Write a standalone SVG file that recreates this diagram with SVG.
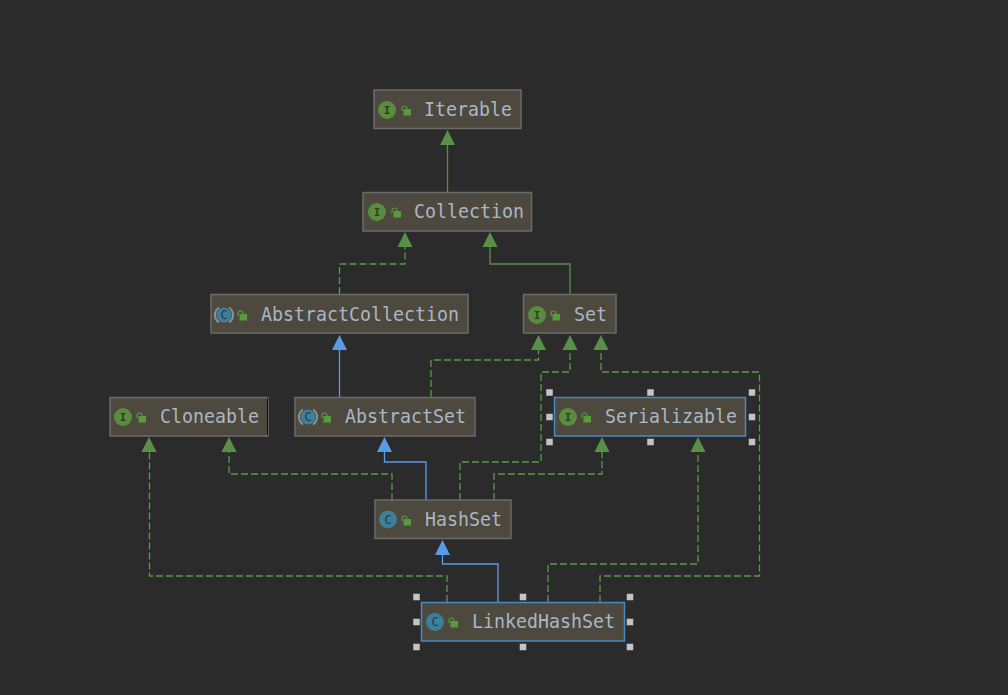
<svg xmlns="http://www.w3.org/2000/svg" width="1008" height="695" viewBox="0 0 1008 695">
<style>
.box{fill:#4d493e;stroke:#6b6b68;stroke-width:1.5}
.sel{fill:#4d493e;stroke:#4a88c7;stroke-width:1.5}
.t{font-family:"DejaVu Sans Mono","Liberation Mono",monospace;font-size:19px;fill:#a9b7c6}
.il{font-family:"DejaVu Sans Mono",monospace;font-size:11px;font-weight:bold;fill:#2f3a28;text-anchor:middle}
.cl{font-family:"DejaVu Sans Mono",monospace;font-size:12px;fill:#1f3a46;text-anchor:middle}
.ic{fill:#5a8c3e}
.cc{fill:#3d7f99}
.st{fill:none;stroke:#8f8f8f;stroke-width:2}
.lock{fill:#5a9a3c}
.shackle{fill:none;stroke:#5a9a3c;stroke-width:1.2}
.g{fill:none;stroke:#5f8a4c;stroke-width:1.3}
.d{fill:none;stroke:#5a9a48;stroke-width:1.3;stroke-dasharray:7 3}
.b{fill:none;stroke:#5a9be6;stroke-width:1.3}
.ag{fill:#5a8f47}
.ab{fill:#5a9be6}
.h{fill:#c4c4c4}
</style>
<defs>
<g id="lk"><rect class="lock" x="-0.500" y="1" width="7.500" height="6.500"/><path class="shackle" d="M-2 3V0.500a2.500 2.500 0 0 1 5 0V1.500"/></g>
<path id="str" class="st" d="M-5 -7.500A9 9 0 0 0 -5 7.500M5 -7.500A9 9 0 0 1 5 7.500"/>
<polygon id="ta" class="ag" points="0,0 7.500,15 -7.500,15"/>
<polygon id="tb" class="ab" points="0,0 7.500,15 -7.500,15"/>
<rect id="hd" class="h" x="-3.250" y="-3.250" width="6.500" height="6.500"/>
</defs>
<rect width="1008" height="695" fill="#2b2b2b"/>
<g id="connectors">
<path class="g" d="M447.500 145V192"/>
<path class="d" d="M339.500 294V264H405V247"/>
<path class="g" d="M570 294V264H490V247"/>
<path class="b" d="M339.500 397V349"/>
<path class="d" d="M431 397V360H538.500V349"/>
<path class="d" d="M460 500V462H541V372H570V349"/>
<path class="d" d="M600 602V576H759.500V372H601V349"/>
<path class="d" d="M392 500V474H229V452"/>
<path class="b" d="M426 500V462H384.500V452"/>
<path class="d" d="M494 500V474H602V452"/>
<path class="b" d="M498 602V564H442.500V554"/>
<path class="d" d="M447 602V576H149.500V452"/>
<path class="d" d="M548 602V564H698V452"/>
<use href="#ta" x="447.500" y="130"/>
<use href="#ta" x="405" y="232"/>
<use href="#ta" x="490" y="232"/>
<use href="#tb" x="339.500" y="335"/>
<use href="#ta" x="538.500" y="335"/>
<use href="#ta" x="570" y="335"/>
<use href="#ta" x="601" y="335"/>
<use href="#ta" x="149" y="437"/>
<use href="#ta" x="229" y="437"/>
<use href="#tb" x="384.500" y="437"/>
<use href="#ta" x="602" y="437"/>
<use href="#ta" x="698" y="437"/>
<use href="#tb" x="442.500" y="540"/>
</g>
<g id="Iterable">
<rect class="box" x="374" y="90" width="147" height="38.500"/>
<circle class="ic" cx="387" cy="110" r="9"/><text class="il" x="387" y="114">I</text>
<use href="#lk" x="404" y="108"/>
<text class="t" x="424" y="116" textLength="88" lengthAdjust="spacingAndGlyphs">Iterable</text>
</g>
<g id="Collection">
<rect class="box" x="363" y="192.500" width="168.500" height="38.500"/>
<circle class="ic" cx="377" cy="212" r="9"/><text class="il" x="377" y="216">I</text>
<use href="#lk" x="394" y="210"/>
<text class="t" x="414" y="218" textLength="110" lengthAdjust="spacingAndGlyphs">Collection</text>
</g>
<g id="AbstractCollection">
<rect class="box" x="211" y="294.500" width="257" height="38.500"/>
<circle class="cc" cx="224" cy="315" r="7.500"/><use href="#str" x="224" y="315"/><text class="cl" x="224" y="319">C</text>
<use href="#lk" x="240" y="313"/>
<text class="t" x="261" y="321" textLength="198" lengthAdjust="spacingAndGlyphs">AbstractCollection</text>
</g>
<g id="Set">
<rect class="box" x="523.500" y="294.500" width="92.500" height="38.500"/>
<circle class="ic" cx="537" cy="315" r="9"/><text class="il" x="537" y="319">I</text>
<use href="#lk" x="553" y="313"/>
<text class="t" x="574" y="321" textLength="33" lengthAdjust="spacingAndGlyphs">Set</text>
</g>
<g id="Cloneable">
<rect class="box" x="110" y="397.500" width="158" height="38.500"/>
<path d="M267.500 398V435" stroke="#111" stroke-width="1"/>
<circle class="ic" cx="123" cy="417" r="9"/><text class="il" x="123" y="421">I</text>
<use href="#lk" x="139" y="415"/>
<text class="t" x="160" y="423" textLength="99" lengthAdjust="spacingAndGlyphs">Cloneable</text>
</g>
<g id="AbstractSet">
<rect class="box" x="295" y="397.500" width="180" height="38.500"/>
<circle class="cc" cx="308" cy="417" r="7.500"/><use href="#str" x="308" y="417"/><text class="cl" x="308" y="421">C</text>
<use href="#lk" x="324" y="415"/>
<text class="t" x="345" y="423" textLength="121" lengthAdjust="spacingAndGlyphs">AbstractSet</text>
</g>
<g id="Serializable">
<rect class="sel" x="554.500" y="397.500" width="191" height="38.500"/>
<circle class="ic" cx="568" cy="417" r="9"/><text class="il" x="568" y="421">I</text>
<use href="#lk" x="584" y="415"/>
<text class="t" x="605" y="423" textLength="132" lengthAdjust="spacingAndGlyphs">Serializable</text>
<use href="#hd" x="549.500" y="392.500"/><use href="#hd" x="650.500" y="392.500"/><use href="#hd" x="752" y="392.500"/>
<use href="#hd" x="549.500" y="417"/><use href="#hd" x="752" y="417"/>
<use href="#hd" x="549.500" y="442"/><use href="#hd" x="650.500" y="442"/><use href="#hd" x="752" y="442"/>
</g>
<g id="HashSet">
<rect class="box" x="375" y="500" width="136" height="38.500"/>
<circle class="cc" cx="388" cy="519.500" r="9"/><text class="cl" x="388" y="523.500">C</text>
<use href="#lk" x="404" y="518"/>
<text class="t" x="425" y="526" textLength="77" lengthAdjust="spacingAndGlyphs">HashSet</text>
</g>
<g id="LinkedHashSet">
<rect class="sel" x="421.500" y="602.500" width="203" height="38.500"/>
<circle class="cc" cx="435" cy="622" r="9"/><text class="cl" x="435" y="626">C</text>
<use href="#lk" x="451" y="620"/>
<text class="t" x="472" y="628" textLength="143" lengthAdjust="spacingAndGlyphs">LinkedHashSet</text>
<use href="#hd" x="416.500" y="597"/><use href="#hd" x="523" y="597"/><use href="#hd" x="630" y="597"/>
<use href="#hd" x="416.500" y="622"/><use href="#hd" x="630" y="622"/>
<use href="#hd" x="416.500" y="647"/><use href="#hd" x="523" y="647"/><use href="#hd" x="630" y="647"/>
</g>
</svg>
